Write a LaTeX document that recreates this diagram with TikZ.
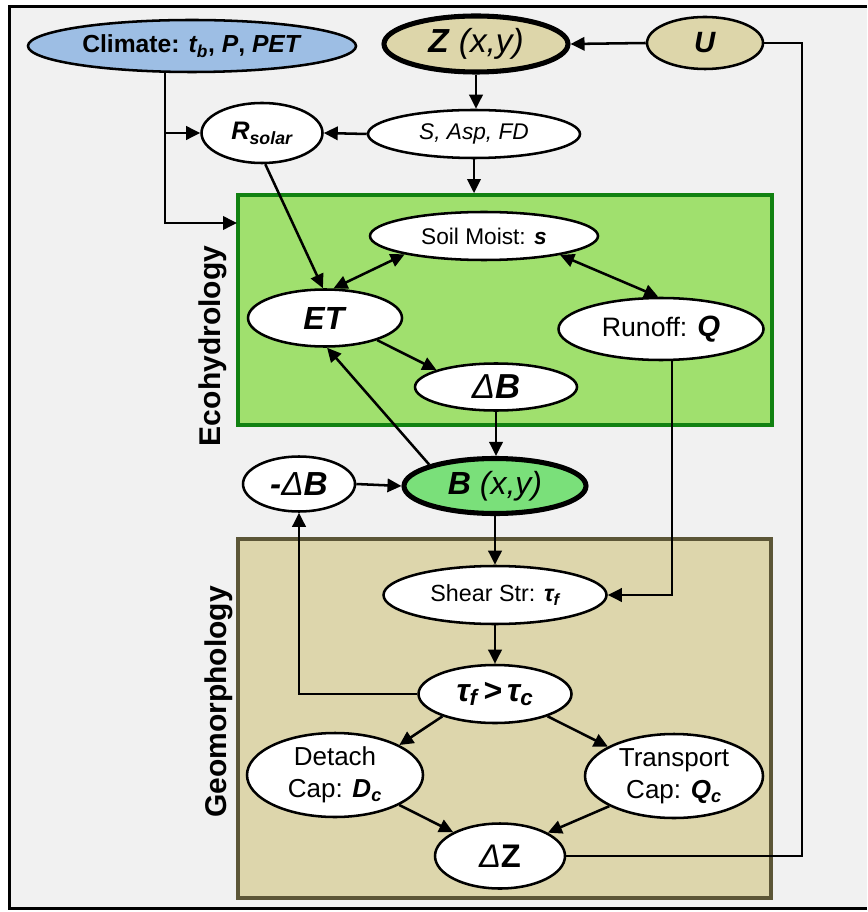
\documentclass[tikz,border=0pt]{standalone}
\usepackage{fontspec}
\setmainfont{Liberation Sans}
\usetikzlibrary{arrows.meta,shapes.geometric,calc}
\definecolor{bgc}{RGB}{241,241,241}
\definecolor{climc}{RGB}{157,190,228}
\definecolor{tanc}{RGB}{221,214,170}
\definecolor{tanbox}{RGB}{221,214,172}
\definecolor{tanedge}{RGB}{92,86,55}
\definecolor{greenbox}{RGB}{160,224,110}
\definecolor{greenedge}{RGB}{18,130,18}
\definecolor{bfill}{RGB}{122,224,122}
\newcommand\fs[2]{\fontsize{#1}{#2}\selectfont}
\begin{document}
\begin{tikzpicture}[x=0.75pt,y=-0.75pt,
  nd/.style={ellipse, draw=black, line width=1.9pt, fill=white, inner sep=0pt, align=center},
  sz/.style 2 args={minimum width=#1*0.75pt, minimum height=#2*0.75pt},
  ln/.style={line width=1.9pt},
  arr/.style={line width=1.9pt, -{Triangle[length=10.5pt,width=10pt]}},
  darr/.style={line width=1.9pt, {Triangle[length=10.5pt,width=10pt]}-{Triangle[length=10.5pt,width=10pt]}},
  boxlbl/.style={rotate=90, font=\bfseries\fs{22.5}{26}}
]
\useasboundingbox (0,0) rectangle (867,912);
% frame and background
\fill[bgc] (9.5,6.5) rectangle (867,908.5);
\draw[line width=2.6pt] (867,6.5) -- (9.5,6.5) -- (9.5,908.5) -- (867,908.5);

% section boxes
\node[draw=greenedge, fill=greenbox, line width=2.8pt, inner sep=0pt, sz={534}{230}] (eco) at (505,310) {};
\node[draw=tanedge, fill=tanbox, line width=3pt, inner sep=0pt, sz={533}{359}] (geo) at (504.5,718.5) {};
\node[boxlbl] (ecolbl) at (213,346) {Ecohydrology};
\node[boxlbl] (geolbl) at (219,702) {Geomorphology};

% nodes
\node[nd, fill=climc, sz={328}{52}, font=\fs{18.5}{22}] (clim) at (192,46) {\textbf{Climate: \textit{t\textsubscript{b}}, \textit{P}, \textit{PET}}};
\node[nd, fill=tanc, line width=3.8pt, sz={184}{56}, font=\fs{25}{30}] (Z) at (476,44) {\textbf{\textit{Z}} \textit{(x,y)}};
\node[nd, fill=tanc, sz={116}{52}, font=\fs{22}{26}] (U) at (705,43) {\textbf{\textit{U}}};
\node[nd, sz={121}{60}, font=\fs{19}{23}] (rsolar) at (262,133) {\textbf{\textit{R\textsubscript{solar}}}};
\node[nd, sz={212}{48}, font=\fs{17}{20}] (sasp) at (474,134) {\textit{S, Asp, FD}};
\node[nd, sz={228}{48}, font=\fs{17}{20}] (soil) at (484,236) {Soil Moist: \textbf{\textit{s}}};
\node[nd, sz={154}{57}, font=\fs{24}{28}] (ET) at (325,318) {\textbf{\textit{ET}}};
\node[nd, sz={205}{62}, font=\fs{20}{24}] (runoff) at (661,329) {Runoff: {\fs{22}{26}\textbf{\textit{Q}}}};
\node[nd, sz={162}{47}, font=\fs{26}{30}] (dB) at (496,387) {\textit{Δ}\textbf{\textit{B}}};
\node[nd, sz={112}{55}, font=\fs{25}{29}] (mdB) at (299,484) {\textbf{\textit{-}}\textit{Δ}\textbf{\textit{B}}};
\node[nd, fill=bfill, line width=3.8pt, sz={182}{55}, font=\fs{24}{28}] (B) at (495,486) {\textbf{\textit{B}} \textit{(x,y)}};
\node[nd, sz={223}{58}, font=\fs{17.5}{21}] (shear) at (495,595) {Shear Str: \textbf{\textit{τ\textsubscript{f}}}};
\node[nd, sz={153}{58}, font=\fs{24}{28}] (tau) at (495,694) {\textbf{\textit{τ\textsubscript{f}\,>\,τ\textsubscript{c}}}};
\node[nd, sz={176}{84}, font=\fs{19.5}{24}] (detach) at (335,775) {Detach\\Cap: \textbf{\textit{D\textsubscript{c}}}};
\node[nd, sz={178}{84}, font=\fs{19.5}{24}] (transport) at (674,776) {Transport\\Cap: \textbf{\textit{Q\textsubscript{c}}}};
\node[nd, sz={130}{65}, font=\fs{24.5}{28}] (dZ) at (500,856) {\textit{Δ}\textbf{Z}};

% helper coordinates (free ends / bend columns)
\coordinate (cl) at (165,133);
\coordinate (ein) at (237,223);
\coordinate (qx) at (672,0);
\coordinate (rx) at (802,0);

% connectors
\draw[arr] (clim.south -| cl) |- (ein);
\draw[arr] (cl) -- (rsolar.west);
\draw[arr] (sasp.west) -- (rsolar.east);
\draw[arr] (Z.south) -- (Z.south |- sasp.north);
\draw[arr] (sasp.south) -- (sasp.south |- eco.north);
\draw[arr] (U.west) -- (Z.east);
\draw[arr] (rsolar.-84) -- (ET.94);
\draw[darr] (ET.74) -- (soil.193);
\draw[darr] (soil.346) -- (runoff.95);
\draw[arr] (ET.337) -- (dB.164);
\draw[arr] (B.162) -- (ET.-86);
\draw[arr] (dB.south) -- (dB.south |- B.north);
\draw[arr] (mdB.east) -- (B.west);
\draw[arr] (B.south) -- (B.south |- shear.north);
\draw[arr] (runoff.south -| qx) |- (shear.east);
\draw[arr] (shear.south) -- (tau.north);
\draw[arr] (tau.west) -| (mdB.south);
\draw[arr] (tau.203) -- (detach.25);
\draw[arr] (tau.337) -- (transport.156);
\draw[arr] (detach.335) -- (dZ.153);
\draw[arr] (transport.205) -- (dZ.26);
\draw[ln] (dZ.east) -| (rx |- U.east) -- (U.east);
\end{tikzpicture}
\end{document}
